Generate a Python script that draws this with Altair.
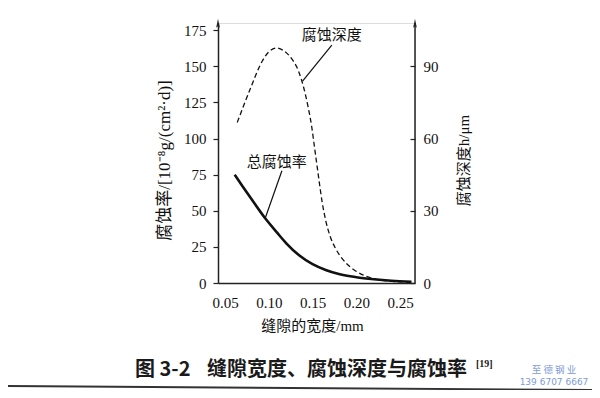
import altair as alt
import pandas as pd

# ---- data ----
gap_rate = [0.061, 0.070, 0.080, 0.095, 0.110, 0.120, 0.135, 0.150, 0.165,
            0.180, 0.200, 0.220, 0.240, 0.263]
rate = [75, 67, 58.3, 45.5, 34.5, 27.5, 19, 13, 9, 6.2, 4, 2.6, 1.6, 0.9]

gap_depth = [0.064, 0.079, 0.092, 0.100, 0.109, 0.117, 0.126, 0.134, 0.140, 0.145,
             0.149, 0.152, 0.155, 0.158, 0.161, 0.165, 0.170, 0.176, 0.182, 0.189,
             0.198, 0.208, 0.223, 0.245, 0.263]
depth = [66.7, 80.8, 91.8, 96.0, 97.6, 96.5, 93.2, 88, 81, 73,
         65, 57, 49, 41, 33.5, 26, 19.5, 14.5, 11, 8,
         5.3, 3.3, 1.5, 0.6, 0.3]

x_ticks = [0.05, 0.10, 0.15, 0.20, 0.25]
left_ticks = [0, 25, 50, 75, 100, 125, 150, 175]
right_ticks = [0, 30, 60, 90]

label_text = ["腐蚀深度", "总腐蚀率"]
label_x = [0.172, 0.109]
label_y = [171.5, 83.5]
leader_x = [0.172, 0.115]
leader_y = [164.6, 77.7]
leader_x2 = [0.1386, 0.0957]
leader_y2 = [139.7, 44.5]

fig_title = "缝隙宽度、腐蚀深度与腐蚀率"
fig_no = "图 3-2"
fig_ref = "[19]"
wm_line1 = "至 德 钢 业"
wm_line2 = "139 6707 6667"

W, H = 197, 260
SERIF = "Liberation Serif, Noto Sans CJK SC"
CJK = "Noto Sans CJK SC"

xsc = alt.Scale(domain=[0.042, 0.267], nice=False, zero=False)
ysc = alt.Scale(domain=[0, 180], nice=False)
ysc_r = alt.Scale(domain=[0, 108], nice=False)

rate_df = pd.DataFrame({"gap": gap_rate, "rate": rate})
depth_df = pd.DataFrame({"gap": gap_depth, "depth": depth})
lab_df = pd.DataFrame({"t": label_text, "x": label_x, "y": label_y})
lead_df = pd.DataFrame({"x": leader_x, "y": leader_y, "x2": leader_x2, "y2": leader_y2})
one = pd.DataFrame({"k": [0]})

solid = alt.Chart(rate_df).mark_line(
    interpolate="monotone", color="#111", strokeWidth=2.6
).encode(
    x=alt.X("gap:Q", scale=xsc, axis=alt.Axis(
        values=x_ticks, format=".2f", tickSize=0, grid=False,
        title="缝隙的宽度/mm", titleFont=SERIF, titleFontSize=15,
        titleFontWeight="normal", titleColor="#111", titleX=94, titleY=42,
        titleBaseline="middle", labelFont=SERIF, labelFontSize=15,
        labelColor="#111", labelPadding=12, domainColor="#222",
        domainWidth=1.5)),
    y=alt.Y("rate:Q", scale=ysc, axis=alt.Axis(
        values=left_ticks, tickSize=5, tickColor="#222", tickWidth=1.2,
        grid=False, title="腐蚀率/[10⁻⁸g/(cm²·d)]", titleFont=SERIF,
        titleFontSize=17, titleFontWeight="normal", titleColor="#111",
        titleAngle=-90, titleX=-54, titleY=137, titleAlign="center",
        titleBaseline="middle", labelFont=SERIF, labelFontSize=15,
        labelColor="#111", labelPadding=7, domainColor="#222",
        domainWidth=1.5)),
)

dashed = alt.Chart(depth_df).mark_line(
    interpolate="monotone", color="#111", strokeWidth=1.3, strokeDash=[5, 3]
).encode(
    x=alt.X("gap:Q", scale=xsc, axis=None),
    y=alt.Y("depth:Q", scale=ysc_r, axis=alt.Axis(
        orient="right", values=right_ticks, tickSize=5, tickColor="#222",
        tickWidth=1.2, offset=-5, domain=False, grid=False,
        title="腐蚀深度h/μm", titleFont=SERIF, titleFontSize=15,
        titleFontWeight="normal", titleColor="#111", titleAngle=-90,
        titleX=53, titleY=137, titleAlign="center", titleBaseline="middle",
        labelFont=SERIF, labelFontSize=15, labelColor="#111",
        labelPadding=8)),
)

labels = alt.Chart(lab_df).mark_text(
    font=CJK, fontSize=15, color="#111", baseline="middle"
).encode(
    x=alt.X("x:Q", scale=xsc, axis=None),
    y=alt.Y("y:Q", scale=ysc, axis=None),
    text="t:N",
)

leaders = alt.Chart(lead_df).mark_rule(color="#111", strokeWidth=1.2).encode(
    x=alt.X("x:Q", scale=xsc, axis=None),
    y=alt.Y("y:Q", scale=ysc, axis=None),
    x2="x2:Q",
    y2="y2:Q",
)

right_line = alt.Chart(one).mark_rule(color="#222", strokeWidth=1.5).encode(
    x=alt.value(W), y=alt.value(0), y2=alt.value(H)
)

arrow_path = "M0,-1L0.35,0.7L0,0.45L-0.35,0.7Z"
arrow_l = alt.Chart(one).mark_point(
    shape=arrow_path, filled=True, color="#222", size=110, opacity=1
).encode(x=alt.value(0), y=alt.value(1))
arrow_r = alt.Chart(one).mark_point(
    shape=arrow_path, filled=True, color="#222", size=110, opacity=1
).encode(x=alt.value(W), y=alt.value(1))

bottom_rule = alt.Chart(one).mark_rule(color="#333", strokeWidth=2).encode(
    x=alt.value(-218), x2=alt.value(382), y=alt.value(363), y2=alt.value(367)
)

t_no = alt.Chart(one).mark_text(
    text=fig_no, font=CJK, fontSize=20, fontWeight="bold", color="#1a1a1a",
    align="left", baseline="middle"
).encode(x=alt.value(-83), y=alt.value(347))

t_main = alt.Chart(one).mark_text(
    text=fig_title, font=CJK, fontSize=20, fontWeight="bold", color="#1a1a1a",
    align="left", baseline="middle"
).encode(x=alt.value(-11), y=alt.value(347))

t_ref = alt.Chart(one).mark_text(
    text=fig_ref, font=SERIF, fontSize=10, fontWeight="bold", color="#1a1a1a",
    align="left", baseline="middle"
).encode(x=alt.value(258), y=alt.value(341))

wm1 = alt.Chart(one).mark_text(
    text=wm_line1, font=CJK, fontSize=9.5, color="#7d9bd6", align="center",
    baseline="middle"
).encode(x=alt.value(336), y=alt.value(347))

wm2 = alt.Chart(one).mark_text(
    text=wm_line2, font="DejaVu Sans", fontSize=9, color="#7d9bd6",
    align="center", baseline="middle"
).encode(x=alt.value(336), y=alt.value(359))

chart = alt.layer(
    solid, dashed, labels, leaders, right_line, arrow_l, arrow_r,
    bottom_rule, t_no, t_main, t_ref, wm1, wm2
).resolve_scale(y="independent").resolve_axis(x="independent").properties(
    width=W, height=H,
    autosize=alt.AutoSizeParams(type="none"),
    padding={"left": 210, "top": 15, "right": 177, "bottom": 107},
).configure_view(stroke=None).configure(background="white")

chart.save("out.html", embed_options={"renderer": "svg", "actions": False})
